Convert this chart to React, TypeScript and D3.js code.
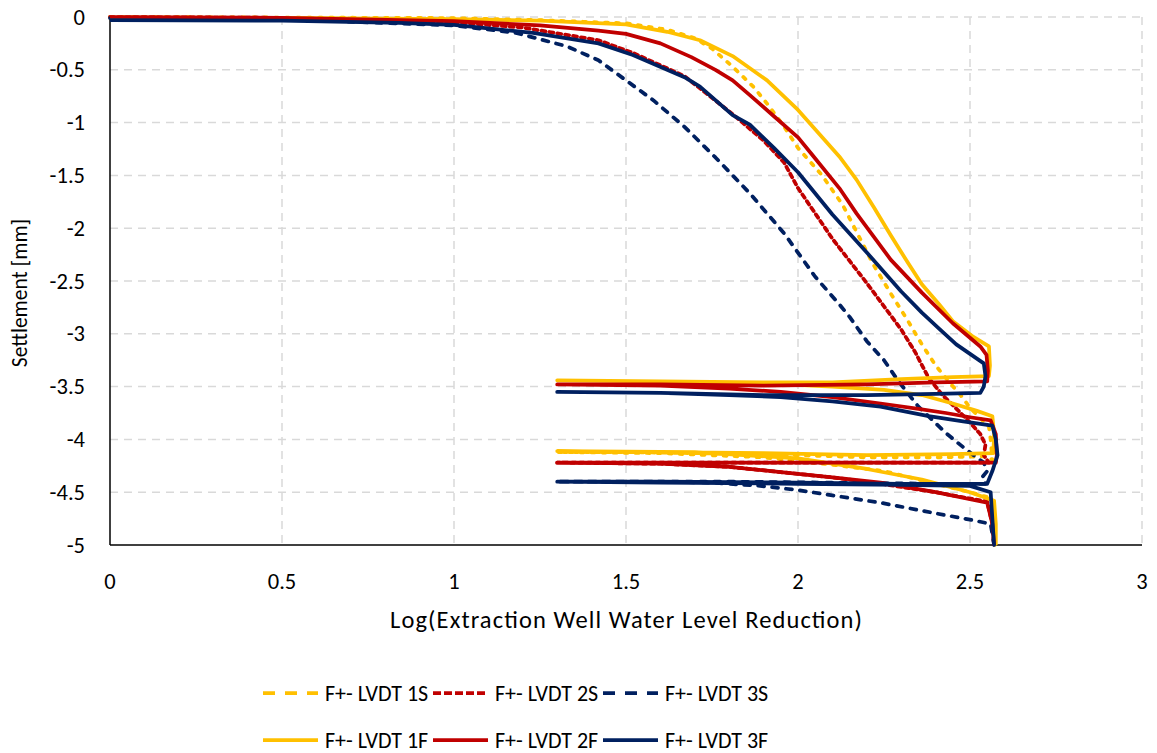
import React from "react";
import * as d3 from "d3";

type Pt = [number, number];

// x tick values and y tick values
const xTicks = [0, 0.5, 1, 1.5, 2, 2.5, 3];
const yTicks = [0, -0.5, -1, -1.5, -2, -2.5, -3, -3.5, -4, -4.5, -5];

const seriesNames = ["F+- LVDT 1S", "F+- LVDT 2S", "F+- LVDT 3S", "F+- LVDT 1F", "F+- LVDT 2F", "F+- LVDT 3F"];

const lvdt1S: Pt[] = [
  [0, 0], [0.5, -0.005], [1.0, -0.01], [1.25, -0.03], [1.5, -0.06], [1.62, -0.12], [1.7, -0.2], [1.75, -0.3],
  [1.81, -0.47], [1.87, -0.66], [1.91, -0.82], [1.96, -1.04], [2.0, -1.24], [2.07, -1.5], [2.13, -1.78],
  [2.16, -1.97], [2.22, -2.35], [2.27, -2.62], [2.32, -2.88], [2.36, -3.1], [2.4, -3.3], [2.44, -3.46],
  [2.47, -3.57], [2.5, -3.7], [2.53, -3.8], [2.555, -3.88], [2.56, -4.0], [2.565, -4.2], [2.555, -4.16],
  [2.4, -4.17], [2.2, -4.17], [2.0, -4.15], [1.7, -4.13], [1.5, -4.12], [1.3, -4.12],
  [1.6, -4.13], [1.9, -4.17], [2.1, -4.24], [2.25, -4.3], [2.4, -4.42], [2.5, -4.5], [2.565, -4.56],
  [2.57, -4.8], [2.572, -5.0],
];

const lvdt2S: Pt[] = [
  [0, 0], [0.5, -0.008], [1.0, -0.05], [1.2, -0.1], [1.42, -0.22], [1.52, -0.34], [1.67, -0.56], [1.81, -0.92],
  [1.9, -1.17], [1.96, -1.38], [2.0, -1.62], [2.05, -1.86], [2.1, -2.1], [2.15, -2.31], [2.2, -2.52],
  [2.25, -2.74], [2.3, -2.96], [2.34, -3.17], [2.38, -3.42], [2.42, -3.58], [2.47, -3.74], [2.5, -3.84],
  [2.53, -3.95], [2.545, -4.05], [2.54, -4.15], [2.555, -4.22],
  [2.4, -4.22], [2.1, -4.22], [1.8, -4.22], [1.5, -4.22], [1.3, -4.22],
  [1.6, -4.23], [1.8, -4.26], [1.95, -4.31], [2.1, -4.36], [2.24, -4.42], [2.4, -4.5], [2.55, -4.59],
  [2.565, -4.8], [2.57, -5.0],
];

const lvdt3S: Pt[] = [
  [0, -0.01], [0.5, -0.02], [1.0, -0.08], [1.18, -0.15], [1.33, -0.28], [1.42, -0.41], [1.5, -0.6],
  [1.58, -0.79], [1.67, -1.04], [1.76, -1.33], [1.86, -1.67], [1.96, -2.05], [2.05, -2.46], [2.12, -2.72],
  [2.15, -2.84], [2.2, -3.07], [2.25, -3.25], [2.29, -3.44], [2.35, -3.69], [2.43, -3.94], [2.49, -4.1],
  [2.54, -4.22], [2.55, -4.3], [2.535, -4.36], [2.545, -4.42],
  [2.4, -4.42], [2.1, -4.41], [1.8, -4.4], [1.5, -4.4], [1.3, -4.4],
  [1.6, -4.4], [1.75, -4.41], [1.89, -4.44], [2.0, -4.48], [2.1, -4.53], [2.24, -4.6], [2.4, -4.7],
  [2.5, -4.76], [2.56, -4.8], [2.565, -4.9], [2.57, -5.0],
];

const lvdt1F: Pt[] = [
  [0, -0.005], [0.5, -0.008], [1.0, -0.02], [1.25, -0.035], [1.5, -0.07], [1.62, -0.14], [1.715, -0.22],
  [1.81, -0.37], [1.91, -0.6], [2.0, -0.88], [2.06, -1.1], [2.12, -1.32], [2.17, -1.54], [2.22, -1.8],
  [2.27, -2.07], [2.32, -2.33], [2.36, -2.53], [2.41, -2.72], [2.45, -2.88], [2.51, -3.03], [2.555, -3.12],
  [2.558, -3.3], [2.555, -3.4],
  [2.45, -3.41], [2.3, -3.43], [2.1, -3.46], [1.9, -3.46], [1.6, -3.45], [1.3, -3.44],
  [1.6, -3.45], [1.9, -3.47], [2.1, -3.5], [2.25, -3.53], [2.36, -3.58], [2.45, -3.66], [2.52, -3.73],
  [2.565, -3.78], [2.57, -3.95], [2.568, -4.13],
  [2.45, -4.14], [2.2, -4.15], [1.9, -4.13], [1.6, -4.12], [1.3, -4.11],
  [1.7, -4.12], [2.0, -4.18], [2.2, -4.28], [2.36, -4.38], [2.5, -4.5], [2.57, -4.58], [2.575, -4.8],
  [2.575, -5.0],
];

const lvdt2F: Pt[] = [
  [0, 0], [0.5, -0.008], [1.0, -0.04], [1.25, -0.08], [1.42, -0.13], [1.5, -0.16], [1.6, -0.25], [1.69, -0.38],
  [1.76, -0.5], [1.81, -0.6], [1.86, -0.74], [1.93, -0.94], [2.0, -1.14], [2.04, -1.3], [2.12, -1.62],
  [2.17, -1.86], [2.22, -2.08], [2.27, -2.3], [2.36, -2.61], [2.45, -2.9], [2.53, -3.12], [2.548, -3.2],
  [2.552, -3.35], [2.55, -3.45],
  [2.4, -3.46], [2.2, -3.48], [1.9, -3.49], [1.6, -3.48], [1.3, -3.48],
  [1.6, -3.49], [1.8, -3.52], [1.95, -3.55], [2.1, -3.6], [2.24, -3.66], [2.35, -3.71], [2.43, -3.75],
  [2.5, -3.79], [2.56, -3.82], [2.575, -3.95], [2.578, -4.15], [2.575, -4.22],
  [2.4, -4.22], [2.1, -4.22], [1.8, -4.22], [1.5, -4.22], [1.3, -4.22],
  [1.6, -4.23], [1.8, -4.26], [1.95, -4.31], [2.1, -4.36], [2.24, -4.41], [2.4, -4.5], [2.55, -4.6],
  [2.565, -4.8], [2.57, -5.0],
];

const lvdt3F: Pt[] = [
  [0, -0.03], [0.5, -0.035], [0.84, -0.055], [1.0, -0.075], [1.23, -0.15], [1.42, -0.25], [1.52, -0.36],
  [1.67, -0.57], [1.715, -0.66], [1.81, -0.93], [1.86, -1.02], [1.93, -1.24], [2.0, -1.47], [2.1, -1.87],
  [2.2, -2.23], [2.3, -2.6], [2.36, -2.8], [2.41, -2.95], [2.46, -3.1], [2.5, -3.19], [2.54, -3.28],
  [2.545, -3.4], [2.54, -3.5], [2.53, -3.56],
  [2.4, -3.57], [2.2, -3.58], [1.9, -3.58], [1.6, -3.56], [1.3, -3.55],
  [1.6, -3.56], [1.8, -3.58], [1.95, -3.6], [2.1, -3.64], [2.24, -3.69], [2.38, -3.78], [2.48, -3.83],
  [2.565, -3.87], [2.575, -4.0], [2.58, -4.15], [2.565, -4.3], [2.55, -4.42],
  [2.3, -4.42], [2.0, -4.41], [1.6, -4.4], [1.3, -4.4],
  [1.6, -4.41], [2.0, -4.42], [2.3, -4.43], [2.5, -4.44], [2.56, -4.5], [2.57, -5.0],
];

const seriesData: Pt[][] = [lvdt1S, lvdt2S, lvdt3S, lvdt1F, lvdt2F, lvdt3F];
const seriesColors = ["#FFC000", "#C00000", "#002060", "#FFC000", "#C00000", "#002060"];
const plotDash = ["3,8", "4,4", "6,8", "", "", ""];
const legendDash = ["12,10", "8,3", "12,10", "", "", ""];

const W = 1157;
const H = 753;
const M = { left: 110, right: 1142, top: 17, bottom: 545 };
const FONT = "Carlito, Lato, sans-serif";

export default function App() {
  const x = d3.scaleLinear().domain([0, 3]).range([M.left, M.right]);
  const y = d3.scaleLinear().domain([0, -5]).range([M.top, M.bottom]);
  const line = d3
    .line<Pt>()
    .x((d) => x(d[0]))
    .y((d) => y(d[1]))
    .curve(d3.curveLinear);

  const legendCols = [263, 433, 603];
  const legendRows = [693, 740];

  return (
    <svg
      width={W}
      height={H}
      style={{ position: "absolute", left: 0, top: 0, background: "#fff", display: "block" }}
      fontFamily={FONT}
    >
      <rect x={0} y={0} width={W} height={H} fill="#fff" />
      {/* grid */}
      {yTicks
        .filter((t) => t !== -5)
        .map((t) => (
          <line key={"gy" + t} x1={M.left} x2={M.right} y1={y(t)} y2={y(t)} stroke="#d9d9d9" strokeWidth={1.5} strokeDasharray="8,6" />
        ))}
      {xTicks
        .filter((t) => t !== 0)
        .map((t) => (
          <line key={"gx" + t} x1={x(t)} x2={x(t)} y1={M.top} y2={M.bottom} stroke="#d9d9d9" strokeWidth={1.5} strokeDasharray="8,6" />
        ))}
      {/* axes */}
      <line x1={M.left} x2={M.right} y1={M.bottom} y2={M.bottom} stroke="#000" strokeWidth={1.5} />
      <line x1={M.left} x2={M.left} y1={M.top} y2={M.bottom} stroke="#000" strokeWidth={1.5} />
      {/* series */}
      {seriesData.map((d, i) => (
        <path
          key={"s" + i}
          d={line(d) || ""}
          fill="none"
          stroke={seriesColors[i]}
          strokeWidth={3.75}
          strokeDasharray={plotDash[i] || undefined}
          strokeLinecap={plotDash[i] ? "round" : "butt"}
          strokeLinejoin="round"
        />
      ))}
      {/* tick labels */}
      {yTicks.map((t) => (
        <text key={"ty" + t} x={85} y={y(t)} textAnchor="end" dominantBaseline="central" fontSize={22.5} fill="#000">
          {String(t)}
        </text>
      ))}
      {xTicks.map((t) => (
        <text key={"tx" + t} x={x(t)} y={581} textAnchor="middle" dominantBaseline="central" fontSize={22.5} fill="#000">
          {String(t)}
        </text>
      ))}
      {/* axis titles */}
      <text
        x={390}
        y={620}
        dominantBaseline="central"
        fontSize={24.5}
        fill="#000"
        textLength={472}
        lengthAdjust="spacing"
      >
        Log(Extraction Well Water Level Reduction)
      </text>
      <text
        transform={`translate(20, 293) rotate(-90)`}
        textAnchor="middle"
        dominantBaseline="central"
        fontSize={21.5}
        fill="#000"
      >
        Settlement [mm]
      </text>
      {/* legend */}
      {seriesNames.map((name, i) => {
        const col = i % 3;
        const row = Math.floor(i / 3);
        const lx = legendCols[col];
        const ly = legendRows[row];
        return (
          <g key={"lg" + i}>
            <line
              x1={lx}
              x2={lx + 55}
              y1={ly}
              y2={ly}
              stroke={seriesColors[i]}
              strokeWidth={3.75}
              strokeDasharray={legendDash[i] || undefined}
            />
            <text x={lx + 62} y={ly} dominantBaseline="central" fontSize={22} fill="#000">
              {name}
            </text>
          </g>
        );
      })}
    </svg>
  );
}
